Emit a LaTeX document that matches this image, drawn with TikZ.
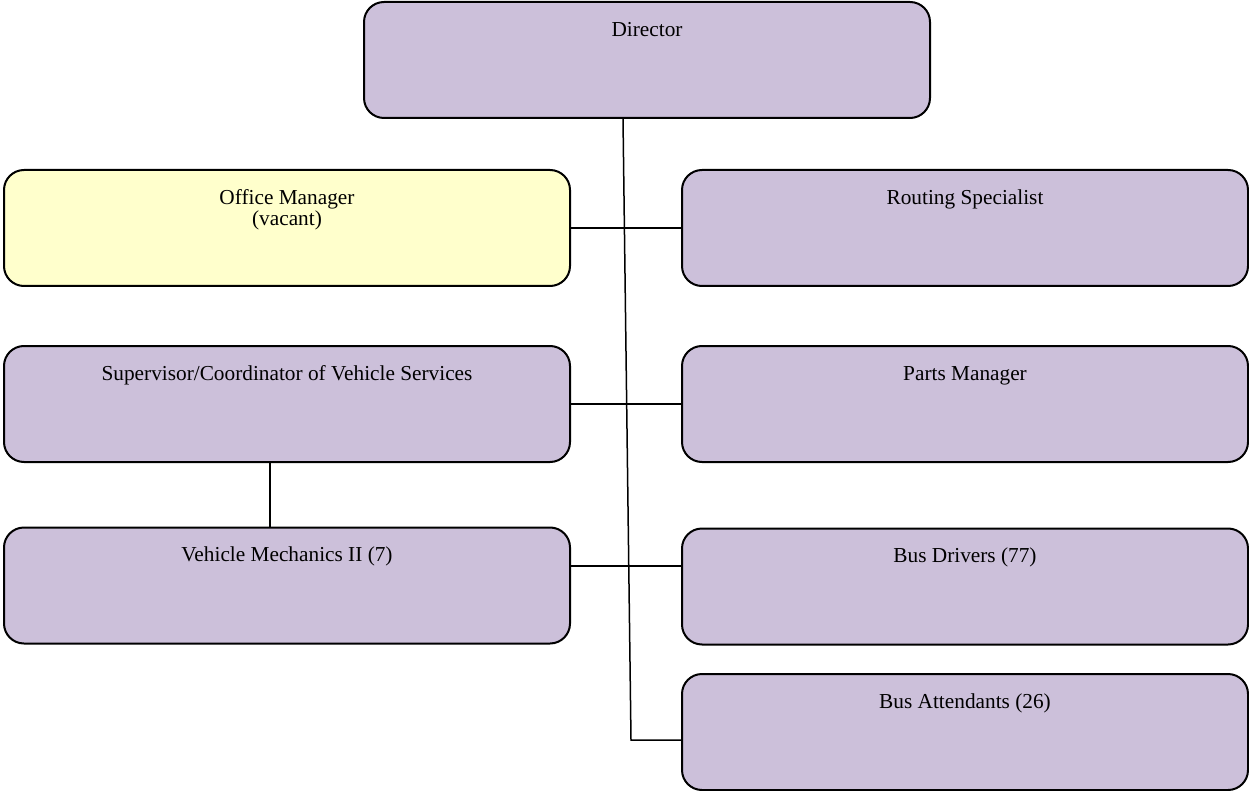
\documentclass[tikz,border=0pt]{standalone}
\usepackage{fontspec}
\setmainfont{Liberation Serif}
\usepackage{tikz}
\usetikzlibrary{positioning, calc}
\definecolor{unitpurple}{HTML}{CCC0DA}
\definecolor{unityellow}{HTML}{FFFFCC}
\tikzset{unitbox/.style = {draw, line width=2pt, rounded corners=20pt, fill=#1,
		minimum width=566pt, minimum height=116pt, inner sep=0pt},
	unitbox/.default = unitpurple,
	unittext/.style = {anchor=north, align=center, inner sep=0pt,
		font=\fontsize{21.3}{21.3}\selectfont},
	link/.style = {line width=1.5pt}}
\NewDocumentCommand{\unitlabel}{m m}{%
	\node[unittext] (#1-t) at ([yshift=-20.3pt]#1.north) {\strut #2};
}

\begin{document}
\begin{tikzpicture}[x=1pt,y=-1pt]
\useasboundingbox (0,0) rectangle (1249,791);
% boxes
\node[unitbox] (dir) at (647,60) {};
\node[unitbox=unityellow] (office) at (287,228) {};
\node[unitbox] (routing) at (965,228) {};
\node[unitbox] (super) at (287,404) {};
\node[unitbox] (parts) at (965,404) {};
\node[unitbox] (mech) at (287,585.5) {};
\node[unitbox] (drivers) at (965,586.5) {};
\node[unitbox] (attend) at (965,732) {};
% labels
\unitlabel{dir}{Director}
\unitlabel{office}{Office Manager\\(vacant)}
\unitlabel{routing}{Routing Specialist}
\unitlabel{super}{Supervisor/Coordinator of Vehicle Services}
\unitlabel{parts}{Parts Manager}
\unitlabel{mech}{Vehicle Mechanics II (7)}
\unitlabel{drivers}{Bus Drivers (77)}
\unitlabel{attend}{Bus Attendants (26)}
% lines
\coordinate (trunk-top) at (dir.south -| 623,0);
\coordinate (trunk-end) at (631,740);
\draw[link] (trunk-top) -- (trunk-end) -- (trunk-end -| attend.west);
\draw[link] (office.east) -- (routing.west);
\draw[link] (super.east) -- (parts.west);
\draw[link] (mech.east |- 0,566) -- (drivers.west |- 0,566);
\draw[link] (super.south -| 270,0) -- (mech.north -| 270,0);
\end{tikzpicture}
\end{document}
